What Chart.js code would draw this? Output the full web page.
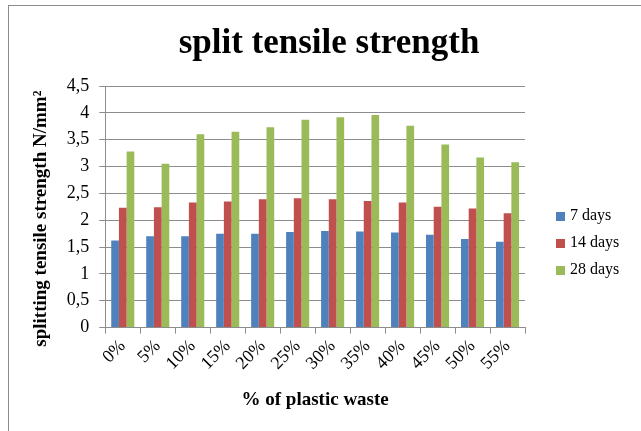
<!DOCTYPE html>
<html>
<head>
<meta charset="utf-8">
<script src="https://cdn.jsdelivr.net/npm/chart.js@4.4.0/dist/chart.umd.min.js"></script>
<style>
  body { margin: 0; background: #fff; }
  #frame {
    position: absolute; left: 8px; top: 5px; width: 640px; height: 430px;
    border-left: 1px solid #8c8c8c; border-top: 1px solid #8c8c8c;
  }
  #wrap { position: absolute; left: 0; top: 0; width: 641px; height: 431px; }
</style>
</head>
<body>
<div id="frame"></div>
<div id="wrap"><canvas id="chart"></canvas></div>
<script>
// data
const categories = ['0%', '5%', '10%', '15%', '20%', '25%', '30%', '35%', '40%', '45%', '50%', '55%'];
const days7 = [1.62, 1.70, 1.70, 1.75, 1.75, 1.78, 1.80, 1.79, 1.77, 1.73, 1.65, 1.60];
const days14 = [2.23, 2.24, 2.33, 2.35, 2.39, 2.41, 2.39, 2.36, 2.33, 2.25, 2.22, 2.13];
const days28 = [3.28, 3.05, 3.60, 3.65, 3.73, 3.87, 3.92, 3.96, 3.76, 3.41, 3.17, 3.08];
const seriesNames = ['7 days', '14 days', '28 days'];
const chartTitle = 'split tensile strength';

const serif = 'Liberation Serif, Times New Roman, serif';
const gridColor = '#8c8c8c';

// title and legend drawn by hand: in the original they are centred on the
// whole picture / sit a bit below the middle, not on the plot area
const extras = {
    id: 'extras',
    afterDraw(chart) {
        const c = chart.ctx;
        c.save();
        c.fillStyle = '#000';
        c.font = 'bold 35px ' + serif;
        c.textAlign = 'center';
        c.textBaseline = 'middle';
        c.fillText(chartTitle, 329, 44);

        c.textAlign = 'left';
        c.font = '16px ' + serif;
        const x = 556;
        let y = 216;
        chart.data.datasets.forEach(ds => {
            c.fillStyle = ds.backgroundColor;
            c.fillRect(x, y - 4, 9, 9);
            c.fillStyle = '#000';
            c.fillText(ds.label, x + 14, y);
            y += 27;
        });
        c.restore();
    }
};

const ctx = document.getElementById('chart').getContext('2d');

new Chart(ctx, {
    type: 'bar',
    data: {
        labels: categories,
        datasets: [
            { label: seriesNames[0], data: days7, backgroundColor: '#4F81BD' },
            { label: seriesNames[1], data: days14, backgroundColor: '#C0504D' },
            { label: seriesNames[2], data: days28, backgroundColor: '#9BBB59' }
        ]
    },
    options: {
        responsive: true,
        maintainAspectRatio: false,
        animation: false,
        categoryPercentage: 0.66,
        barPercentage: 1.0,
        layout: {
            padding: { left: 30, right: 116, top: 86, bottom: 20 }
        },
        scales: {
            x: {
                grid: {
                    drawOnChartArea: false,
                    offset: true,
                    tickLength: 6,
                    color: gridColor
                },
                border: { color: gridColor },
                ticks: {
                    color: '#000',
                    font: { family: serif, size: 18 },
                    minRotation: 45,
                    maxRotation: 45,
                    padding: 2
                },
                title: {
                    display: true,
                    text: '% of plastic waste',
                    color: '#000',
                    font: { family: serif, size: 19, weight: 'bold' },
                    padding: { top: 12, bottom: 0 }
                }
            },
            y: {
                min: 0,
                max: 4.5,
                grid: {
                    color: gridColor,
                    tickLength: 6
                },
                border: { color: gridColor },
                ticks: {
                    stepSize: 0.5,
                    color: '#000',
                    font: { family: serif, size: 18 },
                    padding: 10,
                    callback: value => String(value).replace('.', ',')
                },
                title: {
                    display: true,
                    text: 'splitting tensile strength N/mm²\u00a0\u00a0\u00a0\u00a0\u00a0',
                    color: '#000',
                    font: { family: serif, size: 19, weight: 'bold' },
                    padding: { top: 0, bottom: 4 }
                }
            }
        },
        plugins: {
            title: { display: false },
            legend: { display: false },
            tooltip: { enabled: false }
        }
    },
    plugins: [extras]
});
</script>
</body>
</html>
